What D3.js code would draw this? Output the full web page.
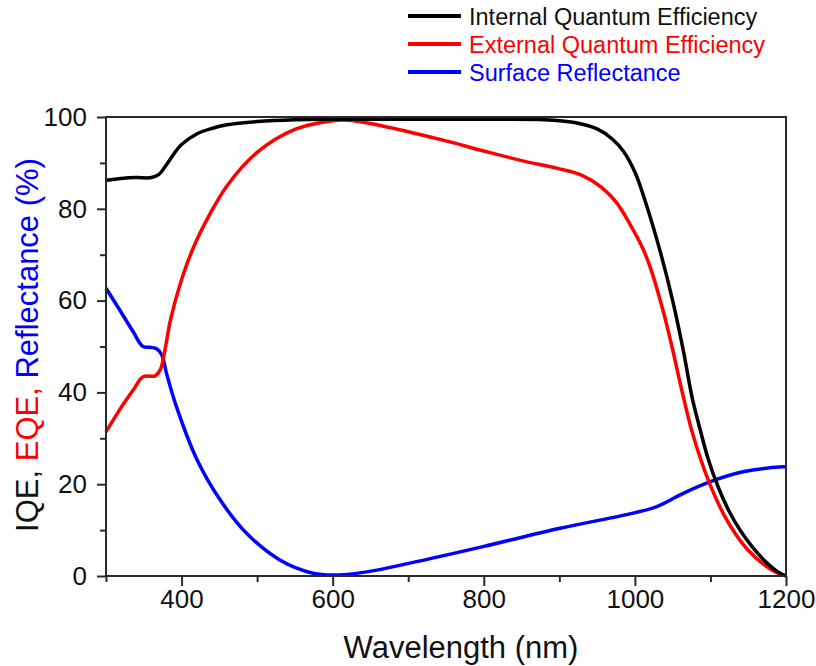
<!DOCTYPE html>
<html>
<head>
<meta charset="utf-8">
<script src="https://cdn.jsdelivr.net/npm/d3@7"></script>
<style>
  body { margin: 0; background: #fff; }
  svg { display: block; font-family: "Liberation Sans", Arial, sans-serif; }
</style>
</head>
<body>
<svg id="chart" width="816" height="666"></svg>
<script>
// wavelength (nm) / value (%) pairs
const iqeNm  = [300, 320, 340, 360, 370, 380, 390, 400, 420, 440, 460, 500, 550, 600, 700, 800, 880, 920, 950, 970, 985, 1000, 1012, 1033, 1050, 1064, 1076, 1087, 1097, 1110, 1125, 1140, 1157, 1175, 1190, 1200];
const iqeVal = [86.2, 86.6, 86.8, 86.8, 87.5, 89.6, 92.0, 94.0, 96.3, 97.5, 98.3, 99.0, 99.4, 99.5, 99.5, 99.5, 99.4, 98.8, 97.4, 95.2, 92.5, 88.0, 82.5, 71.0, 60.0, 49.2, 38.7, 31.5, 25.5, 19.5, 14.0, 9.8, 6.0, 2.8, 0.8, 0];

const eqeNm  = [300, 318, 336, 349, 365, 372, 378, 385, 398, 415, 438, 461, 500, 550, 600, 620, 650, 700, 750, 800, 850, 900, 930, 955, 975, 994, 1010, 1020, 1037, 1049, 1062, 1075, 1088, 1101, 1117, 1133, 1150, 1170, 1188, 1200];
const eqeVal = [31.4, 36.2, 40.5, 43.4, 43.6, 45.0, 49.2, 55.5, 63.5, 71.3, 79.0, 85.2, 92.3, 97.3, 99.2, 99.3, 98.6, 96.8, 94.8, 92.6, 90.5, 88.7, 87.3, 84.8, 81.5, 76.5, 71.5, 67.4, 58.0, 50.0, 40.5, 31.8, 25.0, 19.3, 13.6, 9.2, 5.6, 2.6, 0.7, 0];

const refNm  = [300, 318, 336, 349, 360, 367, 374, 380, 393, 420, 451, 486, 530, 574, 600, 645, 702, 799, 901, 998, 1029, 1064, 1099, 1143, 1196, 1200];
const refVal = [62.7, 58.0, 53.2, 50.0, 49.8, 49.5, 48.1, 44.2, 37.0, 25.5, 16.6, 9.3, 3.5, 0.6, 0.2, 0.9, 2.8, 6.4, 10.4, 13.7, 15.1, 18.0, 20.5, 22.7, 23.8, 23.8];

const xMajor = [400, 600, 800, 1000, 1200];
const xMinor = [300, 500, 700, 900, 1100];
const yMajor = [0, 20, 40, 60, 80, 100];
const yMinor = [10, 30, 50, 70, 90];

const seriesNames  = ["Internal Quantum Efficiency", "External Quantum Efficiency", "Surface Reflectance"];
const seriesColors = ["#000000", "#ff0000", "#0000ff"];

const series = [
  { name: seriesNames[0], color: seriesColors[0], pts: iqeNm.map((d, i) => [d, iqeVal[i]]) },
  { name: seriesNames[1], color: seriesColors[1], pts: eqeNm.map((d, i) => [d, eqeVal[i]]) },
  { name: seriesNames[2], color: seriesColors[2], pts: refNm.map((d, i) => [d, refVal[i]]) },
];

const svg = d3.select("#chart");
const plotL = 106, plotR = 786, plotT = 117, plotB = 576;

const x = d3.scaleLinear().domain([300, 1200]).range([plotL, plotR]);
const y = d3.scaleLinear().domain([0, 100]).range([plotB, plotT]);

//curves (drawn in reverse so black ends on top)
const line = d3.line()
  .x((d) => x(d[0]))
  .y((d) => y(d[1]))
  .curve(d3.curveCatmullRom.alpha(0.5));

const plot = svg.append("g");
series.slice().reverse().forEach((s) => {
  plot.append("path")
    .datum(s.pts)
    .attr("fill", "none")
    .attr("stroke", s.color)
    .attr("stroke-width", 3.5)
    .attr("stroke-linejoin", "round")
    .attr("d", line);
});

// frame
svg.append("rect")
  .attr("x", plotL).attr("y", plotT)
  .attr("width", plotR - plotL).attr("height", plotB - plotT)
  .attr("fill", "none")
  .attr("stroke", "#2a2a2a")
  .attr("stroke-width", 2);

// axes
function styleAxis(g) {
  g.select(".domain").remove();
  g.selectAll(".tick line").attr("stroke", "#2a2a2a").attr("stroke-width", 2);
  g.selectAll(".tick text").attr("fill", "#111").attr("font-size", 26)
    .attr("font-family", "Liberation Sans, Arial, sans-serif");
}

svg.append("g").attr("transform", `translate(0,${plotB})`)
  .call(d3.axisBottom(x).tickValues(xMajor).tickSize(10).tickPadding(4).tickFormat(d3.format("d")))
  .call(styleAxis);
svg.append("g").attr("transform", `translate(0,${plotB})`)
  .call(d3.axisBottom(x).tickValues(xMinor).tickSize(6).tickFormat(""))
  .call(styleAxis);
svg.append("g").attr("transform", `translate(${plotL},0)`)
  .call(d3.axisLeft(y).tickValues(yMajor).tickSize(9).tickPadding(10).tickFormat(d3.format("d")))
  .call(styleAxis);
svg.append("g").attr("transform", `translate(${plotL},0)`)
  .call(d3.axisLeft(y).tickValues(yMinor).tickSize(6).tickFormat(""))
  .call(styleAxis);

// axis titles
svg.append("text")
  .attr("x", 461).attr("y", 658)
  .attr("text-anchor", "middle")
  .attr("font-size", 31)
  .attr("fill", "#111")
  .text("Wavelength (nm)");

const yt = svg.append("text")
  .attr("transform", "translate(38,345) rotate(-90)")
  .attr("text-anchor", "middle")
  .attr("font-size", 31);
yt.append("tspan").attr("fill", "#111").text("IQE, ");
yt.append("tspan").attr("fill", "#ff0000").text("EQE, ");
yt.append("tspan").attr("fill", "#0000ff").text("Reflectance (%)");

// legend
const legendY = [16, 44, 72];
series.forEach((s, i) => {
  svg.append("line")
    .attr("x1", 408).attr("x2", 461)
    .attr("y1", legendY[i]).attr("y2", legendY[i])
    .attr("stroke", s.color).attr("stroke-width", 4);
  svg.append("text")
    .attr("x", 469).attr("y", legendY[i] + 9)
    .attr("font-size", 23.5)
    .attr("fill", i === 0 ? "#111" : s.color)
    .text(s.name);
});
</script>
</body>
</html>
